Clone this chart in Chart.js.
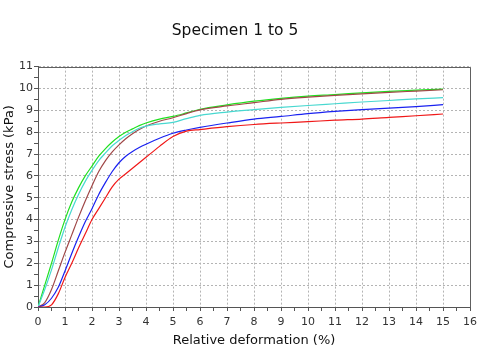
<!DOCTYPE html>
<html>
<head>
<meta charset="utf-8">
<script src="https://cdn.jsdelivr.net/npm/chart.js@4/dist/chart.umd.min.js"></script>
<style>
  html, body { margin: 0; padding: 0; background: #ffffff; }
  #wrap { width: 480px; height: 360px; }
</style>
</head>
<body>
<div id="wrap"><canvas id="c" width="480" height="360"></canvas></div>
<script>
const titleText = 'Specimen 1 to 5';
const xTitle = 'Relative deformation (%)';
const yTitle = 'Compressive stress (kPa)';

const strain = [0, 0.25, 0.5, 0.75, 1, 1.25, 1.5, 1.75, 2, 2.25, 2.5, 2.75, 3, 3.25, 3.5, 3.75, 4, 4.5, 5, 5.5, 6, 7, 8, 9, 10, 11, 12, 13, 14, 15];

const specimenGreen = [0, 1.0, 2.0, 3.05, 4.0, 4.8, 5.45, 6.0, 6.45, 6.9, 7.25, 7.55, 7.8, 8.0, 8.15, 8.3, 8.42, 8.6, 8.72, 8.88, 9.05, 9.25, 9.42, 9.55, 9.65, 9.72, 9.8, 9.87, 9.92, 9.97];
const specimenCyan  = [0, 0.8, 1.7, 2.7, 3.65, 4.45, 5.15, 5.75, 6.25, 6.7, 7.05, 7.38, 7.62, 7.85, 8.02, 8.18, 8.28, 8.38, 8.45, 8.62, 8.77, 8.92, 9.03, 9.13, 9.22, 9.3, 9.38, 9.45, 9.52, 9.58];
const specimenBrown = [0, 0.2, 0.8, 1.65, 2.5, 3.3, 4.1, 4.85, 5.55, 6.2, 6.7, 7.1, 7.42, 7.7, 7.93, 8.12, 8.28, 8.5, 8.66, 8.85, 9.02, 9.2, 9.35, 9.5, 9.6, 9.68, 9.75, 9.82, 9.88, 9.94];
const specimenBlue  = [0, 0.1, 0.4, 0.9, 1.65, 2.45, 3.2, 3.9, 4.5, 5.15, 5.7, 6.2, 6.6, 6.9, 7.12, 7.3, 7.45, 7.72, 7.95, 8.1, 8.22, 8.42, 8.6, 8.72, 8.85, 8.95, 9.03, 9.1, 9.17, 9.26];
const specimenRed   = [0, 0, 0.1, 0.6, 1.35, 2.0, 2.7, 3.35, 4.0, 4.5, 5.0, 5.5, 5.85, 6.1, 6.35, 6.6, 6.85, 7.35, 7.8, 8.05, 8.12, 8.25, 8.35, 8.42, 8.48, 8.55, 8.6, 8.68, 8.75, 8.83];

const seriesNames = ['Specimen 1', 'Specimen 2', 'Specimen 3', 'Specimen 4', 'Specimen 5'];
const seriesValues = [specimenRed, specimenBlue, specimenCyan, specimenBrown, specimenGreen];
const seriesColors = ['#f01818', '#1a22f0', '#48d8d0', '#a04848', '#20e020'];

const FONT = "'DejaVu Sans', Verdana, sans-serif";

const datasets = seriesValues.map((vals, i) => ({
  label: seriesNames[i],
  data: strain.map((x, j) => ({ x: x, y: vals[j] })),
  borderColor: seriesColors[i],
  backgroundColor: seriesColors[i],
  borderWidth: 1.2,
  pointRadius: 0,
  fill: false,
  cubicInterpolationMode: 'monotone'
}));

const isInt = v => Math.abs(v - Math.round(v)) < 1e-9;

const framePlugin = {
  id: 'frame',
  afterDraw(chart) {
    const a = chart.chartArea;
    const ctx = chart.ctx;
    ctx.save();
    ctx.strokeStyle = '#606060';
    ctx.lineWidth = 1;
    ctx.beginPath();
    ctx.moveTo(Math.round(a.left) + 0.5, Math.round(a.top) + 0.5);
    ctx.lineTo(Math.round(a.right) + 0.5, Math.round(a.top) + 0.5);
    ctx.lineTo(Math.round(a.right) + 0.5, Math.round(a.bottom) + 0.5);
    ctx.stroke();
    ctx.restore();
  }
};

new Chart(document.getElementById('c'), {
  type: 'line',
  data: { datasets: datasets },
  plugins: [framePlugin],
  options: {
    responsive: false,
    animation: false,
    devicePixelRatio: 1,
    layout: { padding: { left: 0, right: 10, top: 0, bottom: 0 } },
    plugins: {
      legend: { display: false },
      tooltip: { enabled: false },
      title: {
        display: true,
        text: titleText,
        color: '#111',
        font: { family: FONT, size: 15.5, weight: 'normal' },
        padding: { top: 22, bottom: 26 }
      }
    },
    scales: {
      x: {
        type: 'linear',
        min: 0, max: 16,
        afterFit(scale) { scale.height = 53; scale.paddingRight = 0; scale.paddingLeft = 0; },
        ticks: {
          stepSize: 0.5,
          autoSkip: false,
          maxRotation: 0,
          padding: 5,
          color: '#333',
          font: { family: FONT, size: 11 },
          callback: v => isInt(v) ? String(v) : ''
        },
        grid: {
          color: ctx => (ctx.tick && isInt(ctx.tick.value)) ? '#b4b4b4' : 'rgba(0,0,0,0)',
          tickColor: '#555',
          tickLength: 4,
          lineWidth: 1
        },
        border: { display: true, color: '#555', width: 1, dash: [2, 2] },
        title: {
          display: true, text: xTitle, color: '#111',
          font: { family: FONT, size: 13 },
          padding: { top: 0, bottom: 12 }
        }
      },
      y: {
        type: 'linear',
        min: 0, max: 11,
        afterFit(scale) { scale.width = 38; },
        ticks: {
          stepSize: 0.5,
          autoSkip: false,
          padding: 1,
          color: '#333',
          font: { family: FONT, size: 11 },
          callback: v => isInt(v) ? String(v) : ''
        },
        grid: {
          color: ctx => (ctx.tick && isInt(ctx.tick.value)) ? '#b4b4b4' : 'rgba(0,0,0,0)',
          tickColor: '#555',
          tickLength: 4,
          lineWidth: 1
        },
        border: { display: true, color: '#555', width: 1, dash: [2, 2] },
        title: {
          display: true, text: yTitle, color: '#111',
          font: { family: FONT, size: 13 },
          padding: { top: 2, bottom: 0 }
        }
      }
    }
  }
});
</script>
</body>
</html>
